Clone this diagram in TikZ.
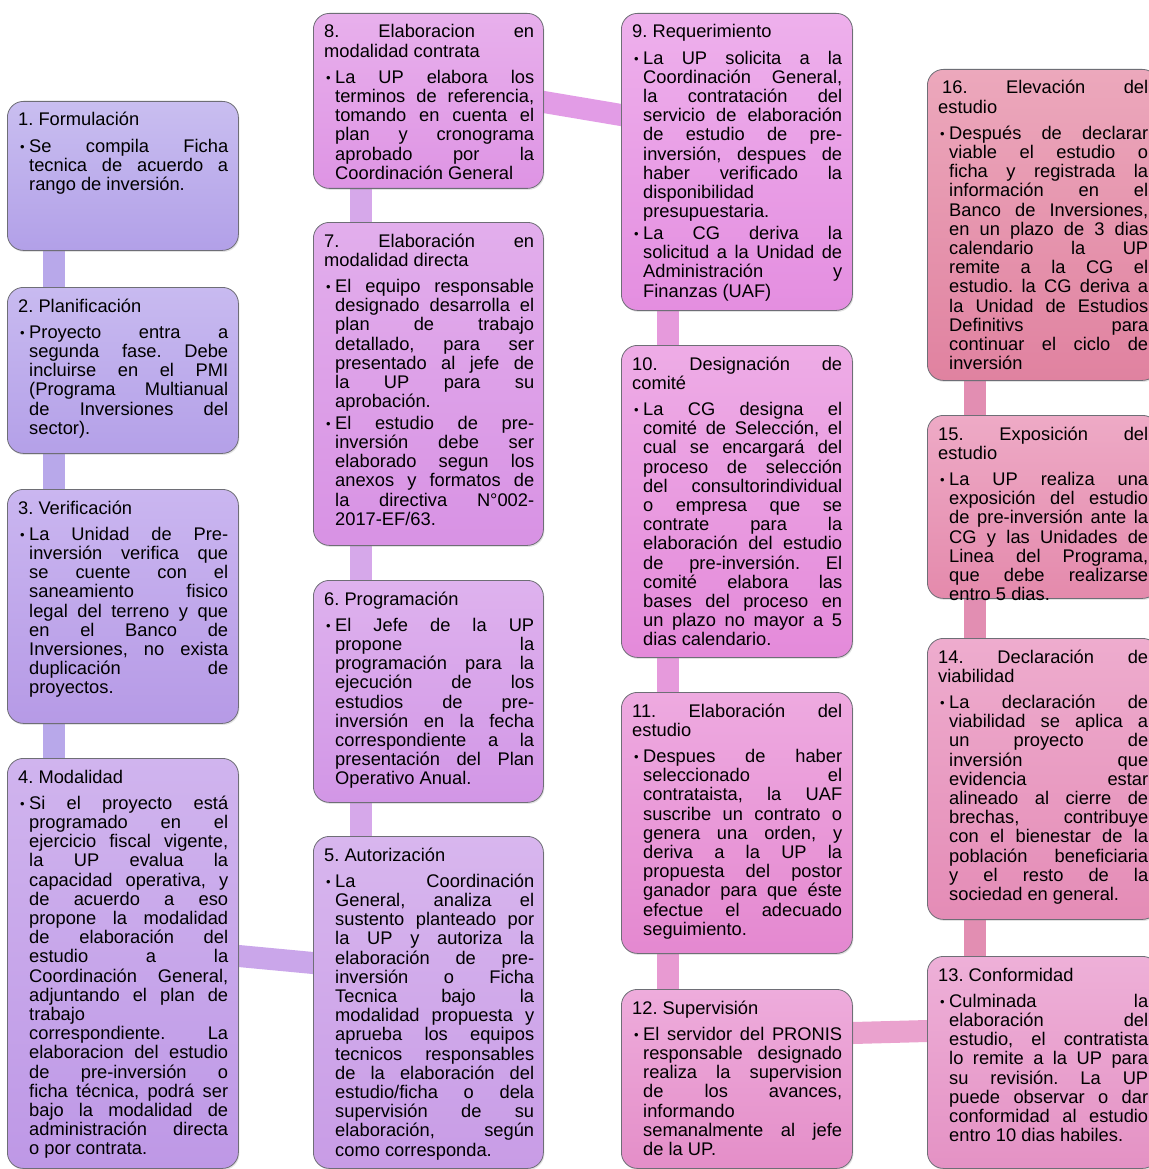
\documentclass[tikz,border=0pt]{standalone}
\usepackage{fontspec}
\setmainfont{Liberation Sans}
\usetikzlibrary{backgrounds,shadows,calc}
\frenchspacing
\newlength\hw \setlength\hw{210pt}
\newlength\bw \setlength\bw{199pt}
\newcommand\jsp{\spaceskip=.278em plus 1fill minus .06em\xspaceskip=\spaceskip\relax}
\newcommand\Hj[1]{\hbox to \hw{\jsp #1\hskip 0pt plus 1fil}}
\newcommand\Hl[1]{\hbox to \hw{#1\hfil}}
\newcommand\Tj[1]{\hbox to \hw{\hskip 11pt\hbox to \bw{\jsp #1\hskip 0pt plus 1fil}\hss}}
\newcommand\Tl[1]{\hbox to \hw{\hskip 11pt\hbox to \bw{#1\hfil}\hss}}
\newcommand\Bj[1]{\hbox to \hw{\hbox to 11pt{\hskip 2pt\raisebox{1pt}{\fontsize{13}{13}\selectfont •}\hfil}\hbox to \bw{\jsp #1\hskip 0pt plus 1fil}\hss}}
\newcommand\HB{\vskip 7pt}
\newcommand\BB{\vskip 2.5pt}
\newcommand\tx{\fontsize{18.3}{19.2}\selectfont\lineskiplimit=-100pt\relax}
\definecolor{bordc}{RGB}{110,110,118}
\definecolor{f1a}{RGB}{201,190,240}\definecolor{f1b}{RGB}{178,160,232}
\definecolor{f2a}{RGB}{200,186,240}\definecolor{f2b}{RGB}{180,160,232}
\definecolor{f3a}{RGB}{202,182,240}\definecolor{f3b}{RGB}{182,154,230}
\definecolor{f4a}{RGB}{208,180,238}\definecolor{f4b}{RGB}{190,152,230}
\definecolor{f5a}{RGB}{216,182,238}\definecolor{f5b}{RGB}{200,156,230}
\definecolor{f6a}{RGB}{222,178,238}\definecolor{f6b}{RGB}{210,150,230}
\definecolor{f7a}{RGB}{226,174,236}\definecolor{f7b}{RGB}{216,146,228}
\definecolor{f8a}{RGB}{232,176,236}\definecolor{f8b}{RGB}{222,148,228}
\definecolor{f9a}{RGB}{238,176,236}\definecolor{f9b}{RGB}{228,142,224}
\definecolor{f10a}{RGB}{238,172,230}\definecolor{f10b}{RGB}{228,138,218}
\definecolor{f11a}{RGB}{238,170,224}\definecolor{f11b}{RGB}{228,136,208}
\definecolor{f12a}{RGB}{238,172,220}\definecolor{f12b}{RGB}{228,142,200}
\definecolor{f13a}{RGB}{238,176,216}\definecolor{f13b}{RGB}{228,146,196}
\definecolor{f14a}{RGB}{238,172,206}\definecolor{f14b}{RGB}{228,140,182}
\definecolor{f15a}{RGB}{238,170,198}\definecolor{f15b}{RGB}{228,138,172}
\definecolor{f16a}{RGB}{236,168,188}\definecolor{f16b}{RGB}{224,130,160}
\definecolor{k1}{RGB}{184,168,234}
\definecolor{k45}{RGB}{202,166,234}
\definecolor{k2}{RGB}{214,168,234}
\definecolor{k89}{RGB}{226,156,230}
\definecolor{k3}{RGB}{230,154,220}
\definecolor{k3b}{RGB}{232,154,210}
\definecolor{k1213}{RGB}{234,162,206}
\definecolor{k4}{RGB}{226,142,178}
\begin{document}
\begin{tikzpicture}[x=1pt,y=-1pt,
  box/.style={draw=bordc, line width=0.8pt, rounded corners=16pt, anchor=north west,
    minimum width=231pt, inner sep=0pt,
    drop shadow={opacity=0.22, shadow xshift=1pt, shadow yshift=-1.5pt}},
  txt/.style={anchor=base west, inner sep=0pt, text=black},
  cn/.style={line width=22pt, shorten <=-6pt, shorten >=-6pt}]
\useasboundingbox (0,0) rectangle (1148,1169);
% ---------- column 1
\node[box, minimum height=149pt, top color=f1a, bottom color=f1b] (b1) at (7,101) {};
\node[box, minimum height=166pt, top color=f2a, bottom color=f2b] (b2) at (7,287) {};
\node[box, minimum height=234pt, top color=f3a, bottom color=f3b] (b3) at (7,489) {};
\node[box, minimum height=410pt, top color=f4a, bottom color=f4b] (b4) at (7,758) {};
% ---------- column 2
\node[box, minimum width=230pt, minimum height=175pt, top color=f8a, bottom color=f8b] (b8) at (313,13) {};
\node[box, minimum width=230pt, minimum height=323pt, top color=f7a, bottom color=f7b] (b7) at (313,222) {};
\node[box, minimum width=230pt, minimum height=222pt, top color=f6a, bottom color=f6b] (b6) at (313,580) {};
\node[box, minimum width=230pt, minimum height=332pt, top color=f5a, bottom color=f5b] (b5) at (313,836) {};
% ---------- column 3
\node[box, minimum height=297pt, top color=f9a, bottom color=f9b] (b9) at (621,13) {};
\node[box, minimum height=312pt, top color=f10a, bottom color=f10b] (b10) at (621,345) {};
\node[box, minimum height=261pt, top color=f11a, bottom color=f11b] (b11) at (621,692) {};
\node[box, minimum height=179pt, top color=f12a, bottom color=f12b] (b12) at (621,989) {};
% ---------- column 4
\node[box, minimum height=311pt, top color=f16a, bottom color=f16b] (b16) at (927,69) {};
\node[box, minimum height=183pt, top color=f15a, bottom color=f15b] (b15) at (927,415) {};
\node[box, minimum height=281pt, top color=f14a, bottom color=f14b] (b14) at (927,638) {};
\node[box, minimum height=212pt, top color=f13a, bottom color=f13b] (b13) at (927,956) {};
% ---------- texts
\node[txt] (t1) at ($(b1.north west)+(11,25)$) {\vtop{\tx
\Hl{1. Formulación}\HB
\Bj{Se compila Ficha}\Tj{tecnica de acuerdo a}\Tl{rango de inversión.}}};
\node[txt] (t2) at ($(b2.north west)+(11,25)$) {\vtop{\tx
\Hl{2. Planificación}\HB
\Bj{Proyecto entra a}\Tj{segunda fase. Debe}\Tj{incluirse en el PMI}\Tj{(Programa Multianual}\Tj{de Inversiones del}\Tl{sector).}}};
\node[txt] (t3) at ($(b3.north west)+(11,25)$) {\vtop{\tx
\Hl{3. Verificación}\HB
\Bj{La Unidad de Pre-}\Tj{inversión verifica que}\Tj{se cuente con el}\Tj{saneamiento fisico}\Tj{legal del terreno y que}\Tj{en el Banco de}\Tj{Inversiones, no exista}\Tj{duplicación de}\Tl{proyectos.}}};
\node[txt] (t4) at ($(b4.north west)+(11,25)$) {\vtop{\tx
\Hl{4. Modalidad}\HB
\Bj{Si el proyecto está}\Tj{programado en el}\Tj{ejercicio fiscal vigente,}\Tj{la UP evalua la}\Tj{capacidad operativa, y}\Tj{de acuerdo a eso}\Tj{propone la modalidad}\Tj{de elaboración del}\Tj{estudio a la}\Tj{Coordinación General,}\Tj{adjuntando el plan de}\Tj{trabajo}\Tj{correspondiente. La}\Tj{elaboracion del estudio}\Tj{de pre-inversión o}\Tj{ficha técnica, podrá ser}\Tj{bajo la modalidad de}\Tj{administración directa}\Tl{o por contrata.}}};
\node[txt] (t8) at ($(b8.north west)+(11,25)$) {\vtop{\tx
\Hj{8. Elaboracion en}\Hl{modalidad contrata}\HB
\Bj{La UP elabora los}\Tj{terminos de referencia,}\Tj{tomando en cuenta el}\Tj{plan y cronograma}\Tj{aprobado por la}\Tl{Coordinación General}}};
\node[txt] (t7) at ($(b7.north west)+(11,25)$) {\vtop{\tx
\Hj{7. Elaboración en}\Hl{modalidad directa}\HB
\Bj{El equipo responsable}\Tj{designado desarrolla el}\Tj{plan de trabajo}\Tj{detallado, para ser}\Tj{presentado al jefe de}\Tj{la UP para su}\Tl{aprobación.}\BB
\Bj{El estudio de pre-}\Tj{inversión debe ser}\Tj{elaborado segun los}\Tj{anexos y formatos de}\Tj{la directiva N°002-}\Tl{2017-EF/63.}}};
\node[txt] (t6) at ($(b6.north west)+(11,25)$) {\vtop{\tx
\Hl{6. Programación}\HB
\Bj{El Jefe de la UP}\Tj{propone la}\Tj{programación para la}\Tj{ejecución de los}\Tj{estudios de pre-}\Tj{inversión en la fecha}\Tj{correspondiente a la}\Tj{presentación del Plan}\Tl{Operativo Anual.}}};
\node[txt] (t5) at ($(b5.north west)+(11,25)$) {\vtop{\tx
\Hl{5. Autorización}\HB
\Bj{La Coordinación}\Tj{General, analiza el}\Tj{sustento planteado por}\Tj{la UP y autoriza la}\Tj{elaboración de pre-}\Tj{inversión o Ficha}\Tj{Tecnica bajo la}\Tj{modalidad propuesta y}\Tj{aprueba los equipos}\Tj{tecnicos responsables}\Tj{de la elaboración del}\Tj{estudio/ficha o dela}\Tj{supervisión de su}\Tj{elaboración, según}\Tl{como corresponda.}}};
\node[txt] (t9) at ($(b9.north west)+(11,25)$) {\vtop{\tx
\Hl{9. Requerimiento}\HB
\Bj{La UP solicita a la}\Tj{Coordinación General,}\Tj{la contratación del}\Tj{servicio de elaboración}\Tj{de estudio de pre-}\Tj{inversión, despues de}\Tj{haber verificado la}\Tj{disponibilidad}\Tl{presupuestaria.}\BB
\Bj{La CG deriva la}\Tj{solicitud a la Unidad de}\Tj{Administración y}\Tl{Finanzas (UAF)}}};
\node[txt] (t10) at ($(b10.north west)+(11,25)$) {\vtop{\tx
\Hj{10. Designación de}\Hl{comité}\HB
\Bj{La CG designa el}\Tj{comité de Selección, el}\Tj{cual se encargará del}\Tj{proceso de selección}\Tj{del consultorindividual}\Tj{o empresa que se}\Tj{contrate para la}\Tj{elaboración del estudio}\Tj{de pre-inversión. El}\Tj{comité elabora las}\Tj{bases del proceso en}\Tj{un plazo no mayor a 5}\Tl{dias calendario.}}};
\node[txt] (t11) at ($(b11.north west)+(11,25)$) {\vtop{\tx
\Hj{11. Elaboración del}\Hl{estudio}\HB
\Bj{Despues de haber}\Tj{seleccionado el}\Tj{contrataista, la UAF}\Tj{suscribe un contrato o}\Tj{genera una orden, y}\Tj{deriva a la UP la}\Tj{propuesta del postor}\Tj{ganador para que éste}\Tj{efectue el adecuado}\Tl{seguimiento.}}};
\node[txt] (t12) at ($(b12.north west)+(11,25)$) {\vtop{\tx
\Hl{12. Supervisión}\HB
\Bj{El servidor del PRONIS}\Tj{responsable designado}\Tj{realiza la supervision}\Tj{de los avances,}\Tj{informando}\Tj{semanalmente al jefe}\Tl{de la UP.}}};
\node[txt] (t16) at ($(b16.north west)+(11,25)$) {\vtop{\tx
\Hj{\hskip4pt 16. Elevación del}\Hl{estudio}\HB
\Bj{Después de declarar}\Tj{viable el estudio o}\Tj{ficha y registrada la}\Tj{información en el}\Tj{Banco de Inversiones,}\Tj{en un plazo de 3 dias}\Tj{calendario la UP}\Tj{remite a la CG el}\Tj{estudio. la CG deriva a}\Tj{la Unidad de Estudios}\Tj{Definitivs para}\Tj{continuar el ciclo de}\Tl{inversión}}};
\node[txt] (t15) at ($(b15.north west)+(11,25)$) {\vtop{\tx
\Hj{15. Exposición del}\Hl{estudio}\HB
\Bj{La UP realiza una}\Tj{exposición del estudio}\Tj{de pre-inversión ante la}\Tj{CG y las Unidades de}\Tj{Linea del Programa,}\Tj{que debe realizarse}\Tl{entro 5 dias.}}};
\node[txt] (t14) at ($(b14.north west)+(11,25)$) {\vtop{\tx
\Hj{14. Declaración de}\Hl{viabilidad}\HB
\Bj{La declaración de}\Tj{viabilidad se aplica a}\Tj{un proyecto de}\Tj{inversión que}\Tj{evidencia estar}\Tj{alineado al cierre de}\Tj{brechas, contribuye}\Tj{con el bienestar de la}\Tj{población beneficiaria}\Tj{y el resto de la}\Tl{sociedad en general.}}};
\node[txt] (t13) at ($(b13.north west)+(11,25)$) {\vtop{\tx
\Hl{13. Conformidad}\HB
\Bj{Culminada la}\Tj{elaboración del}\Tj{estudio, el contratista}\Tj{lo remite a la UP para}\Tj{su revisión. La UP}\Tj{puede observar o dar}\Tj{conformidad al estudio}\Tl{entro 10 dias habiles.}}};
% ---------- connectors (behind)
\begin{scope}[on background layer]
\fill[white] (0,0) rectangle (1148,1169);
\draw[cn, k1] ($(b1.south west)+(47,0)$) -- ($(b2.north west)+(47,0)$);
\draw[cn, k1] ($(b2.south west)+(47,0)$) -- ($(b3.north west)+(47,0)$);
\draw[cn, k1] ($(b3.south west)+(47,0)$) -- ($(b4.north west)+(47,0)$);
\draw[cn, k45] ($(b4.north east)+(0,198)$) -- ($(b5.north west)+(0,127)$);
\draw[cn, k2] ($(b5.north west)+(48,0)$) -- ($(b6.south west)+(48,0)$);
\draw[cn, k2] ($(b6.north west)+(48,0)$) -- ($(b7.south west)+(48,0)$);
\draw[cn, k2] ($(b7.north west)+(48,0)$) -- ($(b8.south west)+(48,0)$);
\draw[cn, k89] ($(b8.north east)+(0,89)$) -- ($(b9.north west)+(0,102)$);
\draw[cn, k3] ($(b9.south west)+(47,0)$) -- ($(b10.north west)+(47,0)$);
\draw[cn, k3] ($(b10.south west)+(47,0)$) -- ($(b11.north west)+(47,0)$);
\draw[cn, k3b] ($(b11.south west)+(47,0)$) -- ($(b12.north west)+(47,0)$);
\draw[cn, k1213] ($(b12.north east)+(0,44)$) -- ($(b13.north west)+(0,75)$);
\draw[cn, k4] ($(b13.north west)+(48,0)$) -- ($(b14.south west)+(48,0)$);
\draw[cn, k4] ($(b14.north west)+(48,0)$) -- ($(b15.south west)+(48,0)$);
\draw[cn, k4] ($(b15.north west)+(48,0)$) -- ($(b16.south west)+(48,0)$);
\end{scope}
\end{tikzpicture}
\end{document}
